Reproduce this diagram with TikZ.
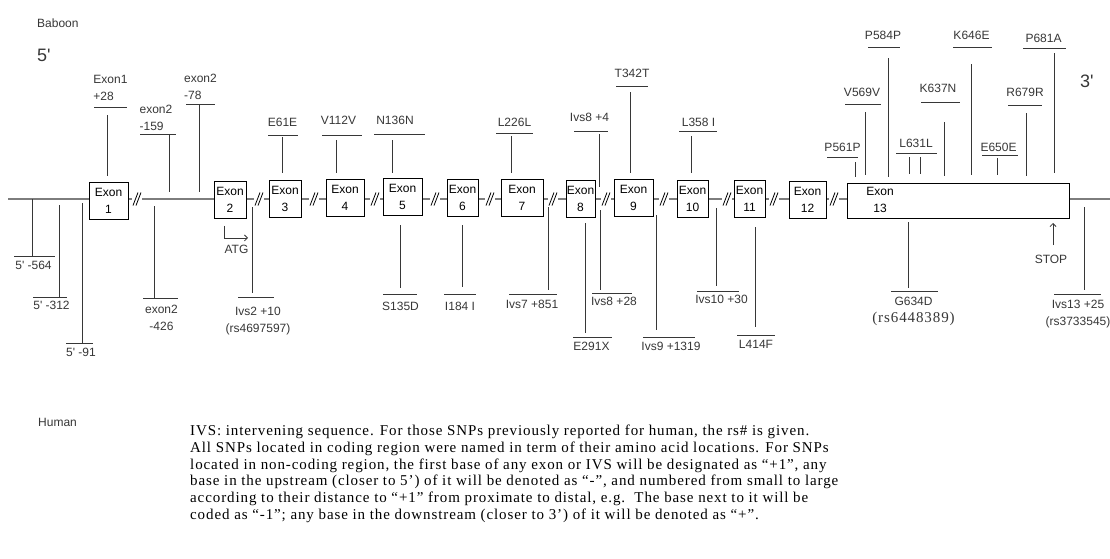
\documentclass[tikz,border=0pt]{standalone}
\usepackage{fontspec}
\setmainfont{Liberation Sans}
\newfontfamily\notefont[LetterSpace=6]{Liberation Serif}
\usetikzlibrary{arrows.meta,positioning}
\definecolor{inkgray}{RGB}{55,55,55}
\definecolor{genegray}{RGB}{125,125,125}
\newcommand{\lab}{\fontsize{12}{17}\selectfont}
\newcommand{\notesize}{\fontsize{15}{16.7}\selectfont}

\begin{document}
\begin{tikzpicture}[x=1pt, y=-1pt,
    gene/.style={draw=genegray, line width=1.8pt},
    exon/.style={draw=black, line width=0.9pt, fill=white, minimum height=37pt, inner sep=0pt, align=center, font=\lab},
    stem/.style={draw=inkgray, line width=0.9pt},
    tagup/.style={anchor=south, inner sep=0pt, align=left, font=\lab, text=inkgray},
    tagdn/.style={anchor=north, inner sep=0pt, align=center, font=\lab, text=inkgray},
    side/.style={anchor=south west, inner sep=0pt, font=\lab, text=inkgray},
    prime/.style={anchor=south west, inner sep=0pt, font=\fontsize{18}{20}\selectfont, text=inkgray},
    pointer/.style={draw=inkgray, line width=0.8pt, -{Straight Barb[length=3pt,width=6pt]}},
    note/.style={anchor=north west, inner sep=0pt, align=left, font=\notefont\notesize},
    cut/.style={minimum width=10pt, minimum height=13pt, inner sep=0pt, fill=white, cutmarks}
]
    \tikzset{
        cutmarks/.style={
            path picture={
                \draw[line width=0.8pt] ([xshift=1pt]path picture bounding box.south west) -- ([xshift=-4pt]path picture bounding box.north east);
                \draw[line width=0.8pt] ([xshift=4pt]path picture bounding box.south west) -- ([xshift=-1pt]path picture bounding box.north east);
            }
        }
    }
    \fill[white] (0,0) rectangle (1110,558);
    \useasboundingbox (0,0) rectangle (1110,558);

    % Species and ends
    \node[side] (baboon) at (37,28) {Baboon};
    \node[prime] (five) at (37,62) {5\textquotesingle};
    \node[prime] (three) at (1080,88) {3\textquotesingle};
    \node[side] (human) at (38,427) {Human};

    % Gene backbone and exons
    \draw[gene] (8,199) -- (1110,199);
    \node[exon, minimum width=39pt] (ex1) at (108.5,201) {Exon\\1};
    \node[exon, minimum width=32pt] (ex2) at (230,200) {Exon\\2};
    \node[exon, minimum width=32pt] (ex3) at (285,199) {Exon\\3};
    \node[exon, minimum width=38pt] (ex4) at (345,198) {Exon\\4};
    \node[exon, minimum width=39pt] (ex5) at (402.5,197) {Exon\\5};
    \node[exon, minimum width=31pt] (ex6) at (462.5,198) {Exon\\6};
    \node[exon, minimum width=42pt] (ex7) at (522,198) {Exon\\7};
    \node[exon, minimum width=29pt] (ex8) at (580.5,198.5) {Exon\\8};
    \node[exon, minimum width=39pt] (ex9) at (633.5,198) {Exon\\9};
    \node[exon, minimum width=31pt] (ex10) at (692.5,199) {Exon\\10};
    \node[exon, minimum width=31pt] (ex11) at (749.5,199) {Exon\\11};
    \node[exon, minimum width=37pt] (ex12) at (807.5,199.5) {Exon\\12};
    \node[exon, minimum width=222pt, minimum height=35pt] (ex13) at (958,200.5) {};
    \node[inner sep=0pt, align=center, font=\lab] (ex13txt) at (880,199.5) {Exon\\13};

    % Intron breaks
    \node[cut] (c1) at (137,199) {};
    \node[cut] (c2) at (259,199) {};
    \node[cut] (c3) at (314,199) {};
    \node[cut] (c4) at (375,199) {};
    \node[cut] (c5) at (435,199) {};
    \node[cut] (c6) at (490,199) {};
    \node[cut] (c7) at (553,199) {};
    \node[cut] (c8) at (606,199) {};
    \node[cut] (c9) at (664,199) {};
    \node[cut] (c10) at (727,199) {};
    \node[cut] (c11) at (774,199) {};
    \node[cut] (c12) at (834,199) {};

    % Start and stop
    \node[tagdn] (atg) at (236.5,245) {ATG};
    \draw[pointer] (ex2.south) ++(-6,7) |- ++(24,12);
    \node[tagdn] (stop) at (1051,255) {STOP};
    \draw[pointer] (stop.north) ++(2,-10) -- ++(0,-22);

    % SNPs above the gene
    \node[tagup] (ex1p28) at (110.5,101) {Exon1\\+28};
    \draw[stem] (94,107) -- (127,107) (107,115) -- (107,176);
    \node[tagup] (ex2m159) at (156,131) {exon2\\-159};
    \draw[stem] (140,134) -- (176,134) (169,134) -- (169,192);
    \node[tagup] (ex2m78) at (200.5,100) {exon2\\-78};
    \draw[stem] (186,104) -- (215,104) (199,104) -- (199,192);
    \node[tagup] (e61e) at (282.5,127) {E61E};
    \draw[stem] (268,135) -- (298,135) (282,137) -- (282,173);
    \node[tagup] (v112v) at (338.5,125) {V112V};
    \draw[stem] (322,135) -- (362,135) (336,140) -- (336,173);
    \node[tagup] (n136n) at (395,125) {N136N};
    \draw[stem] (374,134) -- (425,134) (392,140) -- (392,173);
    \node[tagup] (l226l) at (514.5,127) {L226L};
    \draw[stem] (496,133) -- (533,133) (511,136) -- (511,173);
    \node[tagup] (ivs8p4) at (589.5,122) {Ivs8 +4};
    \draw[stem] (574,131) -- (608,131) (599,134) -- (599,187);
    \node[tagup] (t342t) at (632,78) {T342T};
    \draw[stem] (616,86) -- (648,86) (630,92) -- (630,173);
    \node[tagup] (l358i) at (698.5,127) {L358 I};
    \draw[stem] (679,131) -- (717,131) (691,136) -- (691,173);
    \node[tagup] (p561p) at (842.5,152) {P561P};
    \draw[stem] (827,157) -- (858,157) (855,162) -- (855,177);
    \node[tagup] (v569v) at (862,97) {V569V};
    \draw[stem] (845,104) -- (881,104) (865,112) -- (865,175);
    \node[tagup] (p584p) at (883,40) {P584P};
    \draw[stem] (868,47) -- (900,47) (888,58) -- (888,177);
    \node[tagup] (l631l) at (916,148) {L631L};
    \draw[stem] (896,153) -- (937,153) (909,157) -- (909,174) (920,157) -- (920,174);
    \node[tagup] (k637n) at (938,93) {K637N};
    \draw[stem] (921,102) -- (960,102) (944,122) -- (944,176);
    \node[tagup] (k646e) at (971.5,40) {K646E};
    \draw[stem] (953,47) -- (992,47) (971,64) -- (971,175);
    \node[tagup] (e650e) at (998.5,152) {E650E};
    \draw[stem] (982,155) -- (1018,155) (997,158) -- (997,175);
    \node[tagup] (r679r) at (1025,97) {R679R};
    \draw[stem] (1008,105) -- (1042,105) (1026,113) -- (1026,176);
    \node[tagup] (p681a) at (1043.5,43) {P681A};
    \draw[stem] (1023,48) -- (1066,48) (1054,53) -- (1054,173);

    % SNPs below the gene
    \node[tagdn] (m564) at (33.5,261) {5\textquotesingle\ -564};
    \draw[stem] (14,256) -- (55,256) (32,199) -- (32,256);
    \node[tagdn] (m312) at (51.5,301) {5\textquotesingle\ -312};
    \draw[stem] (33,297) -- (67,297) (59,205) -- (59,297);
    \node[tagdn] (m91) at (81,348) {5\textquotesingle\ -91};
    \draw[stem] (66,343) -- (93,343) (82,203) -- (82,343);
    \node[tagdn] (ex2m426) at (161.5,305) {exon2\\-426};
    \draw[stem] (143,298) -- (178,298) (154,206) -- (154,298);
    \node[tagdn] (ivs2) at (258,307) {Ivs2 +10\\(rs4697597)};
    \draw[stem] (238,297) -- (274,297) (252,207) -- (252,293);
    \node[tagdn] (s135d) at (400.5,302) {S135D};
    \draw[stem] (383,294) -- (417,294) (400,225) -- (400,288);
    \node[tagdn] (i184i) at (460,302) {I184 I};
    \draw[stem] (444,294) -- (476,294) (462,225) -- (462,287);
    \node[tagdn] (ivs7) at (532,300) {Ivs7 +851};
    \draw[stem] (509,294) -- (557,294) (548,207) -- (548,290);
    \node[tagdn] (e291x) at (591.5,342) {E291X};
    \draw[stem] (573,337) -- (612,337) (585,223) -- (585,333);
    \node[tagdn] (ivs8p28) at (614,297) {Ivs8 +28};
    \draw[stem] (592,293) -- (632,293) (600,210) -- (600,290);
    \node[tagdn] (ivs9) at (671,342) {Ivs9 +1319};
    \draw[stem] (643,337) -- (695,337) (656,215) -- (656,330);
    \node[tagdn] (ivs10) at (721.5,295) {Ivs10 +30};
    \draw[stem] (697,291) -- (739,291) (716,208) -- (716,286);
    \node[tagdn] (l414f) at (756,340) {L414F};
    \draw[stem] (737,335) -- (775,335) (755,227) -- (755,327);
    \node[tagdn] (g634d) at (913.5,297) {G634D\\{\notefont\notesize(rs6448389)}};
    \draw[stem] (891,291) -- (938,291) (908,222) -- (908,288);
    \node[tagdn] (ivs13) at (1078,300) {Ivs13 +25\\(rs3733545)};
    \draw[stem] (1054,294) -- (1101,294) (1084,207) -- (1084,290);

    % Legend
    \node[note] (legend) at (190,425) {IVS: intervening sequence. For those SNPs previously reported for human, the rs\# is given.\\
        All SNPs located in coding region were named in term of their amino acid locations. For SNPs\\
        located in non-coding region, the first base of any exon or IVS will be designated as “+1”, any\\
        base in the upstream (closer to 5’) of it will be denoted as “-”, and numbered from small to large\\
        according to their distance to “+1” from proximate to distal, e.g.\ \ The base next to it will be\\
        coded as “-1”; any base in the downstream (closer to 3’) of it will be denoted as “+”.};
\end{tikzpicture}
\end{document}
